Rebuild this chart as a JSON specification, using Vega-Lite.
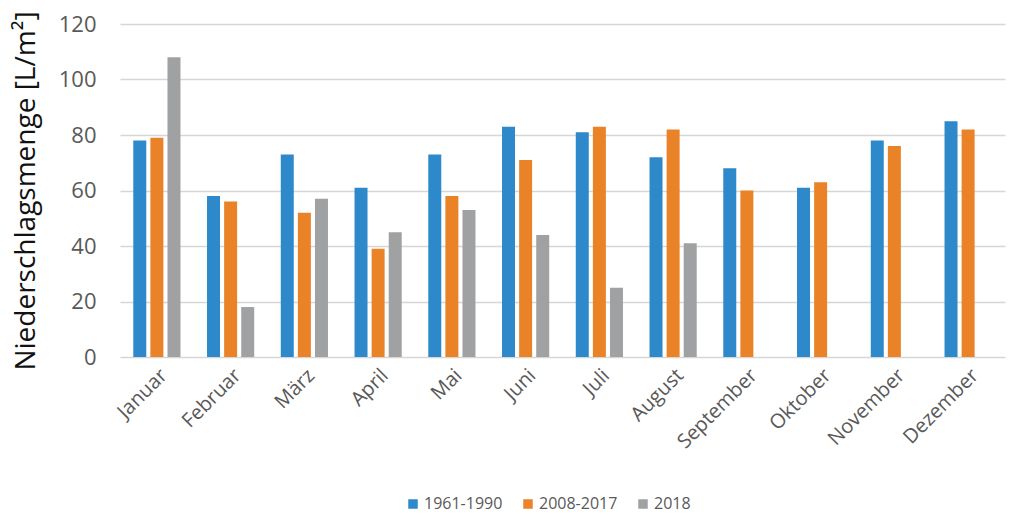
{
  "$schema": "https://vega.github.io/schema/vega-lite/v6.json",
  "width": 885,
  "height": 333,
  "autosize": {"type": "none"},
  "padding": {"left": 120, "top": 24, "right": 5, "bottom": 158},
  "background": "white",
  "config": {
    "view": {"stroke": null},
    "font": "Open Sans",
    "axis": {"labelFont": "Open Sans", "titleFont": "Open Sans"}
  },
  "data": {
    "values": [
      {"month": "Januar", "period": "1961-1990", "value": 78},
      {"month": "Januar", "period": "2008-2017", "value": 79},
      {"month": "Januar", "period": "2018", "value": 108},
      {"month": "Februar", "period": "1961-1990", "value": 58},
      {"month": "Februar", "period": "2008-2017", "value": 56},
      {"month": "Februar", "period": "2018", "value": 18},
      {"month": "März", "period": "1961-1990", "value": 73},
      {"month": "März", "period": "2008-2017", "value": 52},
      {"month": "März", "period": "2018", "value": 57},
      {"month": "April", "period": "1961-1990", "value": 61},
      {"month": "April", "period": "2008-2017", "value": 39},
      {"month": "April", "period": "2018", "value": 45},
      {"month": "Mai", "period": "1961-1990", "value": 73},
      {"month": "Mai", "period": "2008-2017", "value": 58},
      {"month": "Mai", "period": "2018", "value": 53},
      {"month": "Juni", "period": "1961-1990", "value": 83},
      {"month": "Juni", "period": "2008-2017", "value": 71},
      {"month": "Juni", "period": "2018", "value": 44},
      {"month": "Juli", "period": "1961-1990", "value": 81},
      {"month": "Juli", "period": "2008-2017", "value": 83},
      {"month": "Juli", "period": "2018", "value": 25},
      {"month": "August", "period": "1961-1990", "value": 72},
      {"month": "August", "period": "2008-2017", "value": 82},
      {"month": "August", "period": "2018", "value": 41},
      {"month": "September", "period": "1961-1990", "value": 68},
      {"month": "September", "period": "2008-2017", "value": 60},
      {"month": "Oktober", "period": "1961-1990", "value": 61},
      {"month": "Oktober", "period": "2008-2017", "value": 63},
      {"month": "November", "period": "1961-1990", "value": 78},
      {"month": "November", "period": "2008-2017", "value": 76},
      {"month": "Dezember", "period": "1961-1990", "value": 85},
      {"month": "Dezember", "period": "2008-2017", "value": 82}
    ]
  },
  "mark": {"type": "bar"},
  "encoding": {
    "x": {
      "field": "month",
      "type": "nominal",
      "sort": ["Januar", "Februar", "März", "April", "Mai", "Juni", "Juli", "August", "September", "Oktober", "November", "Dezember"],
      "scale": {"paddingInner": 0.36, "paddingOuter": 0.18},
      "axis": {
        "title": null,
        "labelAngle": -45,
        "labelFontSize": 20,
        "labelColor": "#595959",
        "domain": false,
        "ticks": false,
        "tickSize": 0,
        "labelPadding": 8,
        "grid": false
      }
    },
    "xOffset": {
      "field": "period",
      "type": "nominal",
      "scale": {"paddingInner": 0.24, "paddingOuter": 0}
    },
    "y": {
      "field": "value",
      "type": "quantitative",
      "scale": {"domain": [0, 120]},
      "axis": {
        "title": "Niederschlagsmenge [L/m²]",
        "titleFontSize": 28,
        "titleFontWeight": "normal",
        "titleColor": "#111111",
        "titlePadding": 18,
        "values": [0, 20, 40, 60, 80, 100, 120],
        "labelFontSize": 22,
        "labelColor": "#595959",
        "labelPadding": 24,
        "domain": false,
        "ticks": false,
        "tickSize": 0,
        "grid": true,
        "gridColor": "#d6d6d6",
        "gridWidth": 1.5
      }
    },
    "color": {
      "field": "period",
      "type": "nominal",
      "scale": {"domain": ["1961-1990", "2008-2017", "2018"], "range": ["#2E89CA", "#EA8328", "#A0A1A3"]},
      "legend": {
        "title": null,
        "orient": "none",
        "direction": "horizontal",
        "legendX": 285,
        "legendY": 472,
        "symbolType": "square",
        "symbolSize": 90,
        "symbolStrokeWidth": 0,
        "labelFont": "Open Sans",
        "labelFontSize": 16,
        "labelColor": "#595959",
        "labelOffset": 3,
        "columnPadding": 17
      }
    }
  }
}
